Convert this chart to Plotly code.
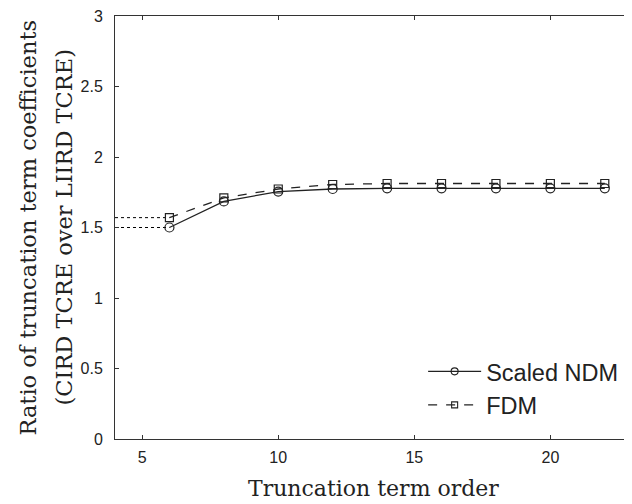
import plotly.graph_objects as go

orders = [6, 8, 10, 12, 14, 16, 18, 20, 22]
scaled_ndm = [1.50, 1.685, 1.755, 1.773, 1.778, 1.778, 1.778, 1.778, 1.778]
fdm = [1.57, 1.71, 1.773, 1.805, 1.812, 1.812, 1.812, 1.812, 1.812]
x_ticks = [5, 10, 15, 20]
y_ticks = [0, 0.5, 1, 1.5, 2, 2.5, 3]
y_title_lines = ["Ratio of truncation term coefficients", "(CIRD TCRE over LIIRD TCRE)"]
x_title = "Truncation term order"
series_names = ["Scaled NDM", "FDM"]

serif = "DejaVu Serif, Liberation Serif"
sans = "Liberation Sans, Arial"
ink = "#222222"

fig = go.Figure()
for v in [scaled_ndm[0], fdm[0]]:
    fig.add_trace(go.Scatter(x=[4, orders[0]], y=[v, v], mode="lines",
                             line=dict(color="black", width=1, dash="dot"),
                             showlegend=False, hoverinfo="skip"))
fig.add_trace(go.Scatter(x=orders, y=scaled_ndm, mode="lines+markers", name=series_names[0],
                         showlegend=False,
                         line=dict(color=ink, width=1.3),
                         marker=dict(symbol="circle-open", size=9, color=ink, line=dict(width=1.2))))
fig.add_trace(go.Scatter(x=orders, y=fdm, mode="lines+markers", name=series_names[1],
                         showlegend=False,
                         line=dict(color=ink, width=1.3, dash="dash"),
                         marker=dict(symbol="square-open", size=8, color=ink, line=dict(width=1.2))))
# legend entries (smaller symbols, as in the reference legend)
fig.add_trace(go.Scatter(x=[None], y=[None], mode="lines+markers", name=series_names[0],
                         line=dict(color=ink, width=1.3),
                         marker=dict(symbol="circle-open", size=7, color=ink, line=dict(width=1.1))))
fig.add_trace(go.Scatter(x=[None], y=[None], mode="lines+markers", name=series_names[1],
                         line=dict(color=ink, width=1.3, dash="dash"),
                         marker=dict(symbol="square-open", size=6, color=ink, line=dict(width=1.1))))

axis_common = dict(showline=True, linecolor="#333333", linewidth=1, mirror="ticks",
                   ticks="inside", ticklen=4, tickcolor="#333333", showgrid=False, zeroline=False,
                   automargin=False, ticklabeloverflow="allow",
                   tickfont=dict(family=sans, size=16, color=ink))
fig.update_xaxes(range=[4, 23], tickvals=x_ticks, ticklabelstandoff=4, **axis_common)
fig.update_yaxes(range=[0, 3], tickvals=y_ticks, ticktext=["0", "0.5", "1", "1.5", "2", "2.5", "3"],
                 ticklabelstandoff=8, **axis_common)

for xpos, line in zip([27, 63], y_title_lines):
    fig.add_annotation(text=line, xref="paper", yref="paper", x=0, y=0.5,
                       xshift=xpos - 115, xanchor="center", yanchor="middle",
                       textangle=-90, showarrow=False,
                       font=dict(family=serif, size=22.5, color=ink))
fig.add_annotation(text=x_title, xref="paper", yref="paper", x=0.5, y=0,
                   yshift=-49, xanchor="center", yanchor="middle", showarrow=False,
                   font=dict(family=serif, size=22, color=ink))

# page has an 8px body margin; figure sized/margined so the plot box lands where the reference has it
fig.update_layout(width=624, height=496, margin=dict(l=107, r=0, t=8, b=65),
                  plot_bgcolor="white", paper_bgcolor="white",
                  legend=dict(x=0.596, y=0.027, xanchor="left", yanchor="bottom", itemwidth=53,
                              bgcolor="rgba(0,0,0,0)", font=dict(family=sans, size=23.5, color=ink)),
                  showlegend=True)
fig.write_html("out.html")
